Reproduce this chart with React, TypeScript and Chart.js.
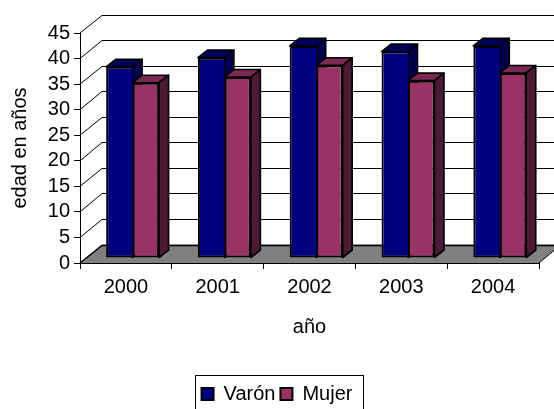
import React, { useEffect, useRef } from "react";
import { Chart, registerables } from "chart.js";

Chart.register(...registerables);

const years = ["2000", "2001", "2002", "2003", "2004"];
const varon = [37.4, 39.2, 41.5, 40.4, 41.5];
const mujer = [34.3, 35.4, 37.7, 34.7, 36.2];

const FONT = "'Liberation Sans', Arial, sans-serif";
const FONT_SIZE = 20;
// wall depth of the pseudo-3D box, and bar plane / bar depth inside it
const WALL = { dx: 22, dy: 18.5 };
const PLANE = { dx: 6.7, dy: 5 };
const BAR = { dx: 9.5, dy: 7.5 };
const SHADES = [
  { top: "#00005c", side: "#00004d" },
  { top: "#7a2952", side: "#4d1a33" },
];

const box3d = {
  id: "box3d",
  afterLayout(chart: any) {
    // the right padding pushes the legend off-centre: recentre it on the page
    const { legend } = chart;
    const shift = (chart.width - (legend.left + legend.right)) / 2;
    legend.left += shift;
    legend.right += shift;
    (legend.legendHitBoxes || []).forEach((h: any) => { h.left += shift; });
  },
  beforeDraw(chart: any) {
    const { ctx, chartArea: a, scales } = chart;
    ctx.save();
    ctx.fillStyle = "#808080";
    ctx.beginPath();
    ctx.moveTo(a.left, a.bottom);
    ctx.lineTo(a.right, a.bottom);
    ctx.lineTo(a.right + WALL.dx, a.bottom - WALL.dy);
    ctx.lineTo(a.left + WALL.dx, a.bottom - WALL.dy);
    ctx.closePath();
    ctx.fill();
    ctx.strokeStyle = "#000";
    scales.y.ticks.forEach((t: any) => {
      const y = scales.y.getPixelForValue(t.value);
      const by = Math.round(y - WALL.dy) + 0.5;
      ctx.lineWidth = t.value === 0 ? 1.5 : 1;
      ctx.beginPath();
      ctx.moveTo(a.left, y);
      ctx.lineTo(a.left + WALL.dx, by);
      ctx.lineTo(a.right + WALL.dx, by);
      ctx.stroke();
    });
    const y0 = scales.y.getPixelForValue(0);
    ctx.lineWidth = 1;
    ctx.beginPath();
    ctx.moveTo(a.right, y0);
    ctx.lineTo(a.right + WALL.dx, y0 - WALL.dy);
    ctx.stroke();
    ctx.restore();
  },
  beforeDatasetsDraw(chart: any) {
    const { ctx } = chart;
    ctx.save();
    ctx.translate(PLANE.dx, -PLANE.dy);
    ctx.strokeStyle = "#000";
    ctx.lineWidth = 1.6;
    ctx.lineJoin = "round";
    chart.getSortedVisibleDatasetMetas().forEach((meta: any, i: number) => {
      meta.data.forEach((bar: any) => {
        const p = bar.getProps(["x", "y", "base", "width"], true);
        const l = p.x - p.width / 2;
        const r = p.x + p.width / 2;
        ctx.fillStyle = SHADES[i].top;
        ctx.beginPath();
        ctx.moveTo(l, p.y);
        ctx.lineTo(l + BAR.dx, p.y - BAR.dy);
        ctx.lineTo(r + BAR.dx, p.y - BAR.dy);
        ctx.lineTo(r, p.y);
        ctx.closePath();
        ctx.fill();
        ctx.stroke();
        ctx.fillStyle = SHADES[i].side;
        ctx.beginPath();
        ctx.moveTo(r, p.y);
        ctx.lineTo(r + BAR.dx, p.y - BAR.dy);
        ctx.lineTo(r + BAR.dx, p.base - BAR.dy);
        ctx.lineTo(r, p.base);
        ctx.closePath();
        ctx.fill();
        ctx.stroke();
      });
    });
  },
  afterDatasetsDraw(chart: any) {
    chart.ctx.restore();
  },
  afterDraw(chart: any) {
    const { ctx, legend } = chart;
    const hit = legend.legendHitBoxes;
    if (!hit || !hit.length) return;
    const l = Math.min(...hit.map((h: any) => h.left)) - 7;
    const r = Math.max(...hit.map((h: any) => h.left + h.width)) + 10;
    ctx.save();
    ctx.strokeStyle = "#000";
    ctx.lineWidth = 1;
    ctx.strokeRect(Math.round(l) + 0.5, Math.round(legend.top) - 3.5, Math.round(r - l), Math.round(legend.height) + 10);
    ctx.restore();
  },
};

export default function App() {
  const ref = useRef<HTMLCanvasElement>(null);
  useEffect(() => {
    document.body.style.margin = "0";
    const chart = new Chart(ref.current!, {
      type: "bar",
      data: {
        labels: years,
        datasets: [
          { label: "Varón", data: varon, backgroundColor: "#000080", borderColor: "#000", borderWidth: 2, borderSkipped: "right", clip: false },
          { label: "Mujer", data: mujer, backgroundColor: "#993366", borderColor: "#000", borderWidth: 2, borderSkipped: false, clip: false },
        ] as any,
      },
      plugins: [box3d],
      options: {
        animation: false,
        responsive: false,
        devicePixelRatio: 1,
        categoryPercentage: 0.577,
        barPercentage: 1,
        layout: { padding: { top: 33, right: 15, left: 0, bottom: -5 } },
        plugins: {
          tooltip: { enabled: false },
          legend: {
            position: "bottom",
            labels: {
              boxWidth: 12,
              boxHeight: 12,
              padding: 5,
              color: "#000",
              font: { family: FONT, size: 20, lineHeight: 1 },
            },
          },
        },
        scales: {
          x: {
            afterFit(s: any) { s.height = 116; },
            grid: { drawOnChartArea: false, drawTicks: true, tickLength: 6, color: "#000" },
            border: { display: true, color: "#000" },
            ticks: { color: "#000", padding: 6.5, maxRotation: 0, font: { family: FONT, size: FONT_SIZE } },
            title: { display: true, text: "año", color: "#000", padding: { top: 0, bottom: 40 }, font: { family: FONT, size: FONT_SIZE } },
          },
          y: {
            min: 0,
            max: 45,
            afterFit(s: any) { s.width = 80; },
            grid: { drawOnChartArea: false, drawTicks: true, tickLength: 6, color: "#000" },
            border: { display: true, color: "#000" },
            ticks: { stepSize: 5, autoSkip: false, color: "#000", padding: 4, font: { family: FONT, size: FONT_SIZE } },
            title: { display: true, text: "edad en años", color: "#000", padding: { top: 8, bottom: 0 }, font: { family: FONT, size: FONT_SIZE } },
          },
        },
      } as any,
    });
    return () => chart.destroy();
  }, []);
  return <canvas ref={ref} width={554} height={409} style={{ display: "block" }} />;
}
